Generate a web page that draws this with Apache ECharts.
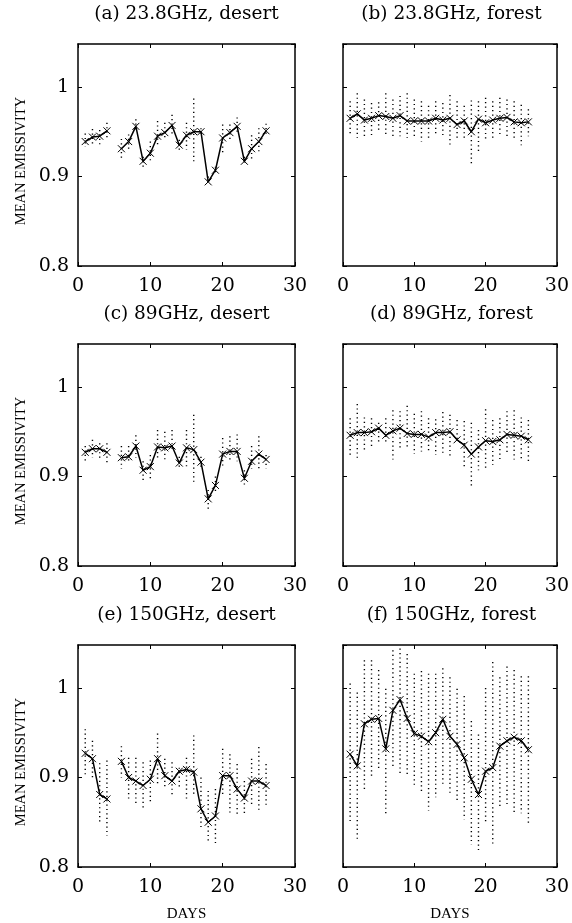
<!DOCTYPE html>
<html><head><meta charset="utf-8">
<script src="https://cdn.jsdelivr.net/npm/echarts@6/dist/echarts.min.js"></script>
<style>html,body{margin:0;padding:0;background:#fff}#c{width:572px;height:923px}</style>
</head><body><div id="c"></div>
<script>
// ---------- data ----------
const days = [1,2,3,4,5,6,7,8,9,10,11,12,13,14,15,16,17,18,19,20,21,22,23,24,25,26];
const xTickValues = [0, 10, 20, 30];
const yTickValues = [0.8, 0.9, 1];
const panelTitles = ['(a) 23.8GHz, desert', '(b) 23.8GHz, forest', '(c) 89GHz, desert', '(d) 89GHz, forest', '(e) 150GHz, desert', '(f) 150GHz, forest'];
const xAxisTitle = 'DAYS';
const yAxisTitle = 'MEAN EMISSIVITY';

// (a) 23.8 GHz desert
const meanA = [0.939,0.944,0.945,0.951,null,0.931,0.939,0.956,0.917,0.926,0.945,0.949,0.957,0.935,0.946,0.950,0.950,0.894,0.907,0.943,0.949,0.956,0.917,0.931,0.939,0.951];
const highA = [0.948,0.953,0.952,0.960,null,0.942,0.947,0.964,0.922,0.939,0.962,0.960,0.969,0.941,0.960,0.987,0.954,0.900,0.911,0.958,0.958,0.966,0.922,0.946,0.954,0.959];
const lowA  = [0.933,0.935,0.935,0.941,null,0.919,0.928,0.949,0.910,0.915,0.935,0.941,0.945,0.930,0.930,0.917,0.945,0.891,0.902,0.926,0.941,0.949,0.913,0.919,0.926,0.945];
// (b) 23.8 GHz forest
const meanB = [0.965,0.970,0.963,0.965,0.968,0.967,0.965,0.968,0.962,0.962,0.962,0.962,0.965,0.963,0.965,0.958,0.962,0.950,0.964,0.960,0.963,0.965,0.966,0.961,0.960,0.961];
const highB = [0.984,0.993,0.986,0.982,0.983,0.993,0.986,0.990,0.993,0.986,0.984,0.979,0.984,0.982,0.991,0.984,0.979,0.985,0.984,0.988,0.984,0.988,0.986,0.984,0.980,0.975];
const lowB  = [0.946,0.943,0.943,0.946,0.950,0.945,0.942,0.945,0.943,0.943,0.939,0.941,0.947,0.943,0.935,0.941,0.941,0.913,0.927,0.941,0.943,0.947,0.943,0.941,0.935,0.945];
// (c) 89 GHz desert
const meanC = [0.927,0.931,0.931,0.927,null,0.921,0.922,0.934,0.907,0.911,0.933,0.932,0.934,0.915,0.932,0.930,0.916,0.875,0.890,0.925,0.928,0.928,0.898,0.917,0.925,0.919];
const highC = [0.934,0.941,0.937,0.937,null,0.934,0.934,0.946,0.917,0.924,0.952,0.950,0.952,0.922,0.952,0.969,0.922,0.885,0.900,0.943,0.945,0.947,0.907,0.934,0.945,0.924];
const lowC  = [0.915,0.921,0.921,0.915,null,0.909,0.915,0.921,0.894,0.896,0.919,0.917,0.928,0.911,0.911,0.894,0.911,0.863,0.881,0.911,0.917,0.917,0.889,0.909,0.907,0.909];
// (d) 89 GHz forest
const meanD = [0.946,0.949,0.949,0.950,0.954,0.946,0.951,0.954,0.948,0.947,0.947,0.944,0.949,0.949,0.950,0.941,0.935,0.925,0.933,0.940,0.939,0.941,0.947,0.946,0.945,0.941];
const highD = [0.965,0.981,0.966,0.965,0.960,0.965,0.974,0.973,0.979,0.970,0.973,0.965,0.964,0.972,0.969,0.963,0.962,0.960,0.952,0.975,0.963,0.965,0.973,0.974,0.966,0.963];
const lowD  = [0.923,0.921,0.928,0.933,0.937,0.939,0.919,0.930,0.932,0.925,0.928,0.929,0.924,0.924,0.922,0.941,0.911,0.889,0.907,0.909,0.913,0.917,0.927,0.919,0.917,0.917];
// (e) 150 GHz desert
const meanE = [0.927,0.921,0.881,0.876,null,0.918,0.900,0.896,0.891,0.898,0.921,0.902,0.896,0.907,0.909,0.906,0.865,0.850,0.857,0.902,0.902,0.887,0.877,0.896,0.896,0.891];
const highE = [0.954,0.941,0.916,0.919,null,0.935,0.922,0.922,0.917,0.919,0.949,0.921,0.917,0.911,0.922,0.947,0.900,0.885,0.887,0.932,0.926,0.915,0.896,0.921,0.934,0.915];
const lowE  = [0.902,0.900,0.848,0.835,null,0.900,0.874,0.868,0.865,0.870,0.893,0.889,0.878,0.889,0.876,0.881,0.844,0.827,0.825,0.878,0.861,0.859,0.859,0.870,0.861,0.868];
// (f) 150 GHz forest
const meanF = [0.926,0.913,0.960,0.965,0.966,0.932,0.975,0.987,0.966,0.949,0.946,0.940,0.950,0.965,0.946,0.937,0.922,0.898,0.881,0.907,0.911,0.935,0.941,0.945,0.941,0.931];
const highF = [1.005,0.995,1.031,1.031,1.020,0.999,1.042,1.044,1.038,1.016,1.019,1.016,1.016,1.022,1.012,0.999,0.991,0.963,0.948,1.000,1.029,1.012,1.024,1.020,1.013,1.013];
const lowF  = [0.850,0.831,0.885,0.900,0.907,0.860,0.911,0.903,0.902,0.889,0.885,0.863,0.878,0.893,0.880,0.874,0.853,0.825,0.817,0.848,0.825,0.866,0.870,0.861,0.860,0.846];

// ---------- layout ----------
const FONT = '"DejaVu Serif","Liberation Serif",serif';
const FONT_SMALL = '"Liberation Serif","DejaVu Serif",serif';
const colLeft = [78, 343];
const gridW = 217;
const rowTop = [44, 344, 645];
const gridH = 222;
const Y_MIN = 0.8, Y_MAX = 1.048, Y_INT = 0.1;

const panels = [
  {mean: meanA, low: lowA, high: highA},
  {mean: meanB, low: lowB, high: highB},
  {mean: meanC, low: lowC, high: highC},
  {mean: meanD, low: lowD, high: highD},
  {mean: meanE, low: lowE, high: highE},
  {mean: meanF, low: lowF, high: highF}
];

const grids = [], xAxes = [], yAxes = [], series = [], graphics = [];
const lineSt = {color: '#000', width: 1.5};
const tickSt = {inside: true, length: 4, lineStyle: {color: '#000', width: 1}};

function yFmt(v) {
  for (const t of yTickValues) if (Math.abs(v - t) < 1e-6) return String(t);
  return '';
}
function xFmt(v) {
  for (const t of xTickValues) if (Math.abs(v - t) < 1e-6) return String(t);
  return '';
}

panels.forEach((p, i) => {
  const col = i % 2, row = Math.floor(i / 2);
  grids.push({left: colLeft[col], top: rowTop[row], width: gridW, height: gridH, containLabel: false});
  const isBottom = row === 2;
  xAxes.push({
    type: 'value', gridIndex: i, min: 0, max: 30, interval: 10, position: 'bottom',
    axisLine: {show: true, onZero: false, lineStyle: lineSt}, axisTick: tickSt, splitLine: {show: false},
    axisLabel: {color: '#000', fontSize: 19, fontFamily: FONT, margin: 11, formatter: xFmt},
    name: isBottom ? xAxisTitle : '', nameLocation: 'middle', nameGap: 40,
    nameTextStyle: {color: '#000', fontSize: 15, fontFamily: FONT_SMALL}
  });
  xAxes.push({
    type: 'value', gridIndex: i, min: 0, max: 30, interval: 10, position: 'top',
    axisLine: {show: true, onZero: false, lineStyle: lineSt}, axisTick: tickSt, splitLine: {show: false},
    axisLabel: {show: false}
  });
  yAxes.push({
    type: 'value', gridIndex: i, min: Y_MIN, max: Y_MAX, interval: Y_INT, position: 'left',
    axisLine: {show: true, onZero: false, lineStyle: lineSt}, axisTick: tickSt, splitLine: {show: false},
    axisLabel: {show: col === 0, color: '#000', fontSize: 19, fontFamily: FONT, margin: 9, formatter: yFmt, showMaxLabel: false}
  });
  yAxes.push({
    type: 'value', gridIndex: i, min: Y_MIN, max: Y_MAX, interval: Y_INT, position: 'right',
    axisLine: {show: true, onZero: false, lineStyle: lineSt}, axisTick: tickSt, splitLine: {show: false},
    axisLabel: {show: false}
  });

  const barData = [];
  days.forEach((d, k) => { if (p.low[k] != null) barData.push([d, p.low[k], p.high[k]]); });
  series.push({
    type: 'custom', xAxisIndex: 2 * i, yAxisIndex: 2 * i, data: barData, silent: true,
    encode: {x: 0, y: [1, 2]},
    renderItem: (params, api) => {
      const d = api.value(0);
      const a = api.coord([d, api.value(2)]);
      const b = api.coord([d, api.value(1)]);
      return {type: 'line', shape: {x1: a[0], y1: a[1], x2: b[0], y2: b[1]},
              style: {stroke: '#000', lineWidth: 1.4, lineDash: [1.2, 3.2]}};
    }
  });
  series.push({
    type: 'line', xAxisIndex: 2 * i, yAxisIndex: 2 * i, silent: true,
    data: days.map((d, k) => [d, p.mean[k]]),
    connectNulls: false,
    lineStyle: {color: '#000', width: 1.5},
    symbol: 'path://M0,0L10,10M10,0L0,10', symbolSize: 7, showSymbol: true,
    itemStyle: {color: 'rgba(0,0,0,0)', borderColor: '#000', borderWidth: 1},
    emphasis: {disabled: true}
  });

  graphics.push({
    type: 'text', x: colLeft[col] + gridW / 2, y: rowTop[row] - 30,
    style: {text: panelTitles[i], fill: '#000', font: '18.5px ' + FONT, textAlign: 'center', textVerticalAlign: 'middle'}
  });
  if (col === 0) {
    graphics.push({
      type: 'text', x: 21, y: rowTop[row] + gridH / 2 + 6, rotation: Math.PI / 2,
      style: {text: yAxisTitle, fill: '#000', font: '14.5px ' + FONT_SMALL, textAlign: 'center', textVerticalAlign: 'middle'}
    });
  }
});

const chart = echarts.init(document.getElementById('c'), null, {renderer: 'canvas'});
chart.setOption({
  backgroundColor: '#fff', animation: false,
  grid: grids, xAxis: xAxes, yAxis: yAxes, series: series, graphic: graphics
});
</script></body></html>
